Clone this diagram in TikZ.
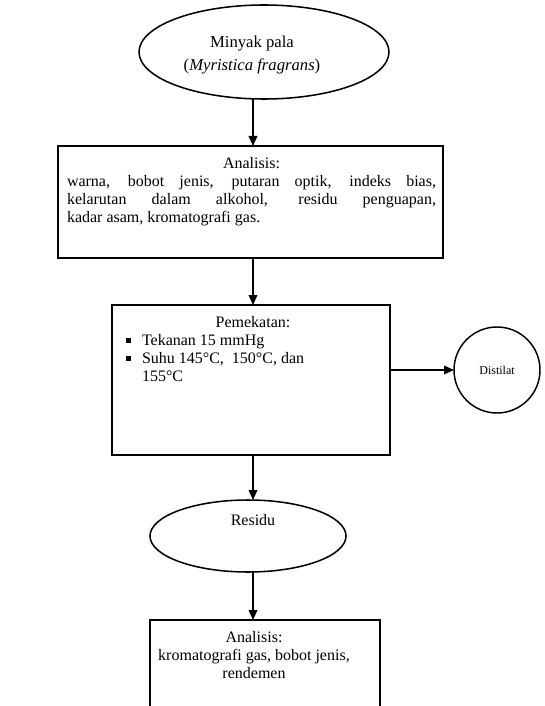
\documentclass[tikz,border=0pt]{standalone}
\usepackage{fontspec}
\setmainfont{Liberation Serif}
\usetikzlibrary{arrows.meta,shapes.geometric,calc}
\newcommand\mybullet{\makebox[12pt][l]{\raisebox{1.5pt}{\rule{3.9pt}{3.9pt}}}}
\begin{document}
\begin{tikzpicture}[x=0.75pt,y=-0.75pt,
  every node/.style={inner sep=0pt, outer sep=0pt},
  shapebox/.style={draw, line width=1.15pt, rectangle},
  oval/.style={draw, line width=1.15pt, ellipse},
  roundnode/.style={draw, line width=1.1pt, circle},
  arr/.style={line width=1.1pt, -{Triangle[length=7.5pt,width=6.5pt]}},
  txt/.style={font=\fontsize{12pt}{13.5pt}\selectfont},
]
\useasboundingbox (0,0) rectangle (544,706);
\clip (0,0) rectangle (544,706);
\fill[white] (0,0) rectangle (544,706);

\coordinate (ax) at (253,0);

\node[oval, minimum width=187.5pt, minimum height=70.5pt] (e1) at (264,52) {};
\node[align=center, font=\fontsize{12.5pt}{17pt}\selectfont] (t0) at (252,55) {Minyak pala\\(\textit{Myristica fragrans})};

\node[shapebox, minimum width=288.75pt, minimum height=84pt] (b1) at (250.5,202) {};
\node[txt, anchor=north, align=left] (t1) at (251.5,157) {\makebox[276.75pt][c]{Analisis:}\\ \makebox[276.75pt][s]{warna, bobot jenis, putaran optik, indeks bias,}\\ \makebox[276.75pt][s]{kelarutan dalam alkohol, residu penguapan,}\\ kadar asam, kromatografi gas.};

\node[shapebox, minimum width=208.5pt, minimum height=112.5pt] (b2) at (251,380) {};
\node[txt] (t2) at (253,322) {Pemekatan:};
\node[txt, anchor=north west, align=left] (t3) at (126,334) {\mybullet Tekanan 15 mmHg\\ \mybullet Suhu 145°C,\ \ 150°C, dan\\ \hspace*{12pt}155°C};

\node[roundnode, minimum size=64.5pt, font=\fontsize{9pt}{10pt}\selectfont] (c1) at (497,370) {Distilat};

\node[oval, minimum width=147pt, minimum height=54pt] (e2) at (248,536) {};
\node[txt] (t5) at (253,520) {Residu};

\node[shapebox, minimum width=172.5pt, minimum height=69pt] (b3) at (265,666) {};
\node[txt, anchor=north, align=center] (t6) at (254,631) {Analisis:\\kromatografi gas, bobot jenis,\\rendemen};

\draw[arr] (ax |- e1.south) -- (ax |- b1.north);
\draw[arr] (ax |- b1.south) -- (ax |- b2.north);
\draw[arr] (b2.east |- c1.west) -- (c1.west);
\draw[arr] (ax |- b2.south) -- (ax |- e2.north);
\draw[arr] (ax |- e2.south) -- (ax |- b3.north);
\end{tikzpicture}
\end{document}
